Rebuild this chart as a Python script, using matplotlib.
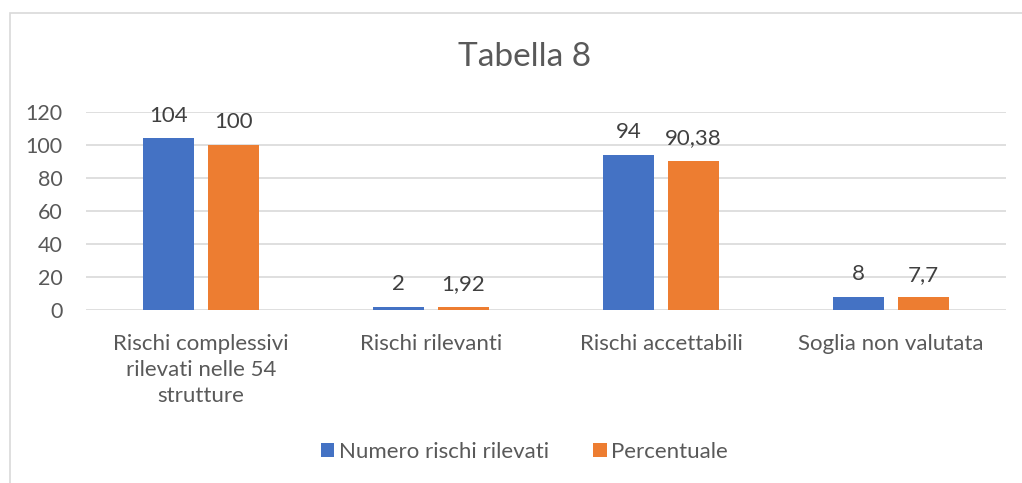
import matplotlib.pyplot as plt
import numpy as np

categories = ["Rischi complessivi\nrilevati nelle 54\nstrutture", "Rischi rilevanti",
              "Rischi accettabili", "Soglia non valutata"]
numero = [104, 2, 94, 8]
percentuale = [100, 1.92, 90.38, 7.7]
numero_labels = ["104", "2", "94", "8"]
perc_labels = ["100", "1,92", "90,38", "7,7"]

plt.rcParams['font.family'] = ['Lato', 'DejaVu Sans']
grey = '#595959'

fig = plt.figure(figsize=(10.22, 4.83), dpi=100)
# chart border
fig.patches.append(plt.Rectangle((10 / 1022, -0.1), 1.2, 1 - 13 / 483 + 0.1,
                                 transform=fig.transFigure, fill=False,
                                 edgecolor='#D9D9D9', linewidth=1.2))
ax = fig.add_axes([86 / 1022, 1 - 310 / 483, 920 / 1022, 198 / 483])

x = np.arange(len(categories))
w = 0.222
off = (w + 0.061) / 2
b1 = ax.bar(x - off, numero, w, color='#4472C4', label='Numero rischi rilevati', zorder=3)
b2 = ax.bar(x + off, percentuale, w, color='#ED7D31', label='Percentuale', zorder=3)
ax.bar_label(b1, labels=numero_labels, padding=9, fontsize=16, color='#404040')
ax.bar_label(b2, labels=perc_labels, padding=9, fontsize=16, color='#404040')

ax.set_xlim(-0.5, 3.5)
ax.set_ylim(0, 120)
ax.set_yticks(range(0, 121, 20))
ax.grid(axis='y', color='#D9D9D9', linewidth=1.2, zorder=0)
for s in ax.spines.values():
    s.set_visible(False)
ax.tick_params(length=0, colors=grey, labelsize=16)
ax.tick_params(axis='y', pad=17, labelsize=15.5)
ax.tick_params(axis='x', pad=17)
ax.set_xticks(x)
ax.set_xticklabels(categories, linespacing=1.4)

fig.text(0.513, 1 - 57 / 483, "Tabella 8", ha='center', va='center', fontsize=24, color=grey)
fig.legend(loc='center', bbox_to_anchor=(0.513, 1 - 452 / 483), ncol=2, frameon=False,
           fontsize=16, labelcolor=grey, handlelength=0.6, handleheight=0.6,
           handletextpad=0.2, columnspacing=2.0)

fig.savefig('out.png', dpi=100)
